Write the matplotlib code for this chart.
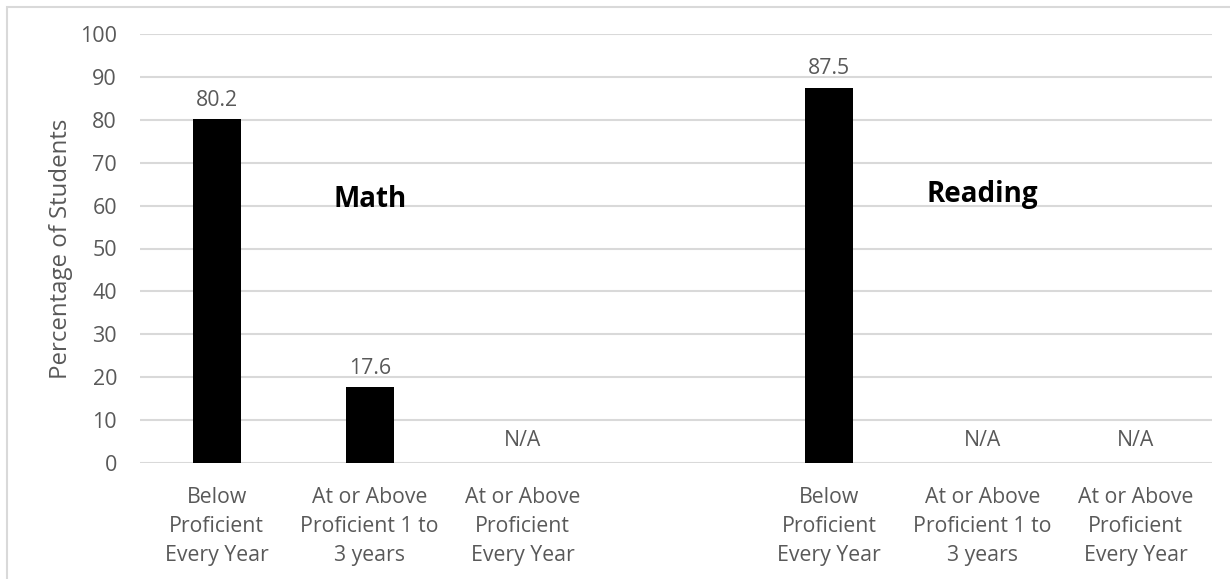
import numpy as np
import matplotlib
matplotlib.use("Agg")
import matplotlib.pyplot as plt
from matplotlib.patches import Rectangle

GRAY = "#595959"
GRID = "#d9d9d9"

categories = ["Below\nProficient\nEvery Year",
              "At or Above\nProficient 1 to\n3 years",
              "At or Above\nProficient\nEvery Year"]
math_vals = [80.2, 17.6, None]
reading_vals = [87.5, None, None]

plt.rcParams["font.family"] = ["Open Sans", "DejaVu Sans"]

fig = plt.figure(figsize=(12.3, 5.79), dpi=100)
ax = fig.add_axes([140 / 1230, 1 - 463 / 579, 1072 / 1230, 429 / 579])

# frame around the whole chart
fig.patches.append(Rectangle((7 / 1230, -0.1), 1.2, 1 - 7 / 579 + 0.1,
                             transform=fig.transFigure, fill=False,
                             edgecolor=GRID, lw=1.5))

labels = categories + [""] + categories
values = math_vals + [None] + reading_vals
x = np.arange(len(values))

for xi, v in zip(x, values):
    if labels[xi] == "":
        continue
    if v is None:
        ax.annotate("N/A", (xi, 0), xytext=(0, 9), textcoords="offset points",
                    ha="center", va="bottom", color=GRAY, fontsize=15.3)
    else:
        ax.bar(xi, v, width=0.313, color="black", zorder=3)
        ax.annotate(f"{v:.1f}", (xi, v), xytext=(0, 6), textcoords="offset points",
                    ha="center", va="bottom", color=GRAY, fontsize=15.3)

ax.text(1, 61.5, "Math", ha="center", va="center", fontsize=20,
        fontweight="bold", color="black")
ax.text(5, 62.5, "Reading", ha="center", va="center", fontsize=20,
        fontweight="bold", color="black")

ax.set_xlim(-0.5, 6.5)
ax.set_ylim(0, 100)
ax.set_yticks(np.arange(0, 101, 10))
ax.set_xticks(x)
ax.set_xticklabels(labels, fontsize=15.3, color=GRAY, linespacing=1.52)
ax.tick_params(axis="y", length=0, pad=16.5, labelsize=15.5, labelcolor=GRAY)
ax.tick_params(axis="x", length=0, pad=17)
ax.grid(axis="y", color=GRID, lw=1.5, zorder=0)
for s in ax.spines.values():
    s.set_visible(False)
ax.set_ylabel("Percentage of Students", fontsize=17.3, color=GRAY, labelpad=5)

fig.savefig("out.png", dpi=100, facecolor="white")
